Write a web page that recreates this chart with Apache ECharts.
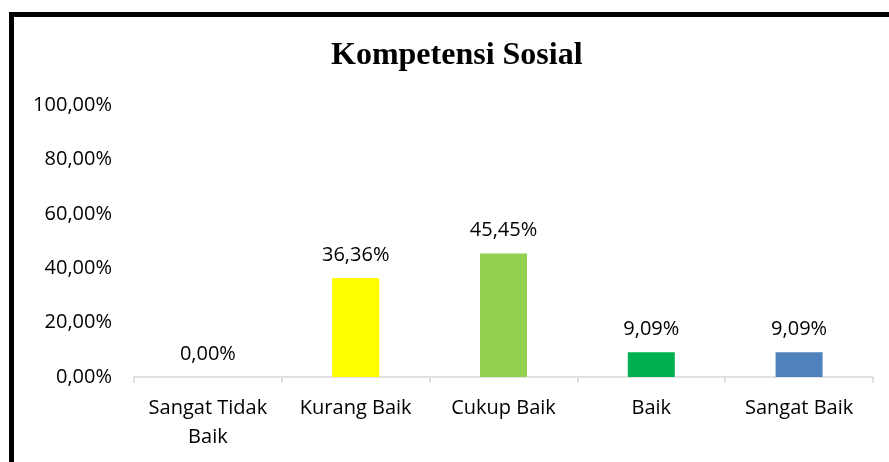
<!DOCTYPE html>
<html><head><meta charset="utf-8">
<script src="https://cdn.jsdelivr.net/npm/echarts@6/dist/echarts.min.js"></script>
<style>html,body{margin:0;padding:0;background:#fff}#c{width:889px;height:462px}</style>
</head><body><div id="c"></div>
<script>
const categories = ['Sangat Tidak\nBaik', 'Kurang Baik', 'Cukup Baik', 'Baik', 'Sangat Baik'];
const values = [0, 36.36, 45.45, 9.09, 9.09];
const colors = ['#A5A5A5', '#FFFF00', '#92D050', '#00B050', '#4F81BD'];
const titleText = 'Kompetensi Sosial';

const fmt = v => v.toFixed(2).replace('.', ',') + '%';
const FS = 20;
const chart = echarts.init(document.getElementById('c'), null, {renderer: 'canvas'});
chart.setOption({
  animation: false,
  title: {
    text: titleText, left: 326, top: 35,
    textStyle: {fontFamily: 'Liberation Serif', fontWeight: 'bold', fontSize: 32, color: '#000'}
  },
  graphic: [{
    type: 'rect', z: 100,
    shape: {x: 11.5, y: 14.5, width: 900, height: 500},
    style: {fill: 'none', stroke: '#000', lineWidth: 5}
  }],
  grid: {left: 134, right: 16, top: 105, bottom: 85, containLabel: false},
  xAxis: {
    type: 'category', data: categories,
    axisLine: {lineStyle: {color: '#D9D9D9', width: 1.5}},
    axisTick: {show: true, length: 6, lineStyle: {color: '#D9D9D9', width: 1.5}},
    axisLabel: {fontFamily: 'Open Sans', fontSize: FS, color: '#000', margin: 17, lineHeight: 29, interval: 0}
  },
  yAxis: {
    type: 'value', min: 0, max: 100, interval: 20,
    splitLine: {show: false},
    axisLine: {show: false}, axisTick: {show: false},
    axisLabel: {fontFamily: 'Open Sans', fontSize: FS, color: '#000', margin: 22, formatter: v => fmt(v)}
  },
  series: [{
    type: 'bar', barWidth: 47,
    data: values.map((v, i) => ({value: v, itemStyle: {color: colors[i]}})),
    label: {show: true, position: 'top', distance: 13, fontFamily: 'Open Sans', fontSize: FS, color: '#000',
      formatter: p => fmt(p.value)}
  }]
});
</script></body></html>
